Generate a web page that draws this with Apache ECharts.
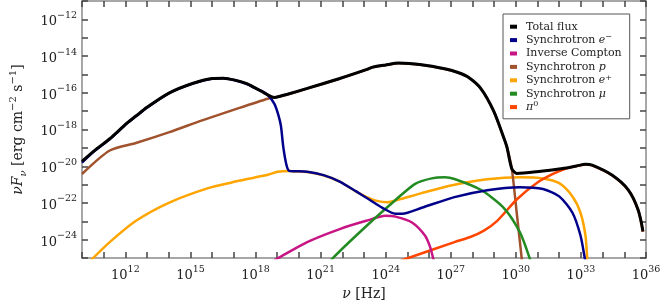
<!DOCTYPE html>
<html><head><meta charset="utf-8">
<script src="https://cdn.jsdelivr.net/npm/echarts@6/dist/echarts.min.js"></script>
<style>html,body{margin:0;padding:0;background:#fff}#c{width:664px;height:306px}</style>
</head><body><div id="c"></div>
<script>
// All values are log10 exponents (axes are decades)
const seriesNames = ['Total flux', 'Synchrotron e−', 'Inverse Compton', 'Synchrotron p', 'Synchrotron e+', 'Synchrotron μ', 'π0'];
const seriesColors = ['#000000', '#00008B', '#C71585', '#A0522D', '#FFA500', '#228B22', '#FF4500'];

const xLabelExponents = [12, 15, 18, 21, 24, 27, 30, 33, 36];
const yLabelExponents = [-24, -22, -20, -18, -16, -14, -12];

const totalLogNu = [10.0, 10.6, 11.28, 12.07, 12.5, 12.98, 14.03, 15.09, 15.99, 16.52, 17.05, 17.6, 17.96, 18.56, 18.87, 19.1, 19.47, 20.38, 21.88, 23.1, 23.4, 24.0, 24.6, 25.66, 26.72, 27.3, 27.78, 28.38, 28.98, 29.44, 29.59, 29.81, 30.04, 30.95, 32.16, 32.8, 33.21, 33.52, 34.43, 35.18, 35.63, 35.86];
const totalLogF  = [-19.73, -19.12, -18.5, -17.65, -17.25, -16.8, -16.0, -15.49, -15.22, -15.2, -15.31, -15.5, -15.72, -16.11, -16.25, -16.2, -16.08, -15.76, -15.22, -14.74, -14.6, -14.48, -14.38, -14.47, -14.69, -14.88, -15.13, -15.76, -17.0, -18.43, -18.96, -20.12, -20.39, -20.3, -20.12, -19.98, -19.89, -19.94, -20.48, -21.28, -22.35, -23.55];

const synElLogNu = [10.0, 10.6, 11.28, 12.07, 12.5, 12.98, 14.03, 15.09, 15.99, 16.52, 17.05, 17.6, 17.96, 18.3, 18.56, 18.87, 19.05, 19.17, 19.28, 19.42, 19.55, 19.8, 20.38, 21.13, 21.88, 22.64, 23.24, 23.85, 24.45, 24.76, 25.66, 27.17, 28.68, 30.19, 31.25, 32.0, 32.61, 32.98, 33.18, 33.22];
const synElLogF  = [-19.8, -19.15, -18.52, -17.67, -17.27, -16.82, -16.01, -15.5, -15.23, -15.21, -15.32, -15.52, -15.73, -15.9, -16.11, -16.6, -17.2, -17.8, -18.96, -19.9, -20.25, -20.27, -20.3, -20.48, -20.83, -21.37, -21.81, -22.26, -22.58, -22.58, -22.26, -21.68, -21.3, -21.14, -21.24, -21.64, -22.53, -23.77, -25.02, -25.3];

const icLogNu = [18.85, 19.02, 20.38, 21.88, 23.1, 24.0, 24.45, 25.21, 25.81, 26.05, 26.19, 26.23];
const icLogF  = [-25.13, -25.02, -24.13, -23.42, -22.97, -22.7, -22.74, -23.06, -23.77, -24.4, -25.02, -25.3];

const synPLogNu = [10.0, 11.28, 12.52, 14.03, 15.54, 17.05, 18.56, 18.87, 19.47, 20.38, 21.88, 23.1, 23.4, 24.0, 24.6, 25.66, 26.72, 27.3, 27.78, 28.38, 28.98, 29.44, 29.59, 29.81, 30.04, 30.27, 30.3];
const synPLogF  = [-20.42, -19.14, -18.72, -18.14, -17.5, -16.9, -16.32, -16.25, -16.09, -15.77, -15.23, -14.75, -14.61, -14.49, -14.39, -14.48, -14.7, -14.89, -15.14, -15.77, -17.01, -18.44, -18.97, -20.1, -22.53, -25.02, -25.35];

const synPosLogNu = [10.3, 10.5, 11.28, 12.49, 14.0, 15.81, 16.9, 17.93, 18.6, 19.02, 19.55, 19.8, 20.38, 21.13, 21.88, 22.64, 23.1, 23.55, 24.08, 24.61, 25.66, 27.17, 28.68, 30.19, 31.25, 32.0, 32.61, 32.98, 33.21, 33.29, 33.31];
const synPosLogF  = [-25.3, -25.02, -24.13, -22.97, -21.99, -21.19, -20.88, -20.62, -20.45, -20.3, -20.26, -20.28, -20.31, -20.49, -20.84, -21.38, -21.66, -21.87, -21.96, -21.81, -21.46, -21.01, -20.71, -20.6, -20.66, -20.92, -21.64, -22.53, -23.77, -25.02, -25.3];

const synMuLogNu = [21.4, 21.55, 22.64, 24.15, 25.36, 26.12, 26.72, 27.17, 28.38, 29.44, 30.19, 30.64, 30.68];
const synMuLogF  = [-25.3, -25.02, -23.77, -22.15, -20.96, -20.66, -20.6, -20.69, -21.28, -22.26, -23.6, -25.02, -25.3];

const pi0LogNu = [24.4, 24.98, 27.17, 27.9, 28.53, 29.14, 30.04, 30.95, 31.71, 32.31, 32.8, 33.21, 33.52, 34.43, 35.18, 35.63, 35.86];
const pi0LogF  = [-25.26, -25.02, -24.13, -23.85, -23.5, -22.97, -21.81, -20.92, -20.42, -20.12, -19.99, -19.9, -19.95, -20.49, -21.29, -22.36, -23.56];

const seriesLogNu = [totalLogNu, synElLogNu, icLogNu, synPLogNu, synPosLogNu, synMuLogNu, pi0LogNu];
const seriesLogF  = [totalLogF, synElLogF, icLogF, synPLogF, synPosLogF, synMuLogF, pi0LogF];
const seriesZ = [10, 8, 6, 5, 4, 6, 5];
const seriesWidth = [3, 2.5, 2.5, 2.5, 2.5, 2.5, 2.5];

const legendRich = {
  'Total flux': 'Total flux',
  'Synchrotron e−': 'Synchrotron {it|e}{sup|−}',
  'Inverse Compton': 'Inverse Compton',
  'Synchrotron p': 'Synchrotron {it|p}',
  'Synchrotron e+': 'Synchrotron {it|e}{sup|+}',
  'Synchrotron μ': 'Synchrotron {it|μ}',
  'π0': '{it|π}{sup|0}'
};

const FONT = 'DejaVu Serif';
const AX = '#8a8a8a';

function toPairs(lx, ly) { return lx.map((e, i) => [e, ly[i]]); }

const labelRich = {
  b: { fontFamily: FONT, fontSize: 13, color: '#222', lineHeight: 18, verticalAlign: 'bottom' },
  s: { fontFamily: FONT, fontSize: 9.5, color: '#222', lineHeight: 11, verticalAlign: 'top' }
};

function baseAxis(pos, isX) {
  return {
    type: 'value',
    min: isX ? 10 : -25, max: isX ? 36 : -11,
    interval: 1,
    position: pos,
    axisLine: { show: true, lineStyle: { color: AX, width: 1.5 } },
    axisTick: { show: true, inside: true, length: 6, lineStyle: { color: '#444', width: 1.5 } },
    splitLine: { show: false }
  };
}

const xMain = Object.assign(baseAxis('bottom', true), {
  axisLabel: {
    margin: 6, showMinLabel: true, showMaxLabel: true,
    formatter: v => { const e = Math.round(v); return xLabelExponents.includes(e) ? '{b|10}{s|' + e + '}' : ''; },
    rich: labelRich
  },
  name: '{it|ν} [Hz]', nameLocation: 'middle', nameGap: 28,
  nameTextStyle: { fontFamily: FONT, fontSize: 14, color: '#222', rich: { it: { fontFamily: FONT, fontStyle: 'italic', fontSize: 14, color: '#222' } } }
});
const xTop = Object.assign(baseAxis('top', true), { axisLabel: { show: false } });
const yMain = Object.assign(baseAxis('left', false), {
  axisLabel: {
    margin: 5,
    formatter: v => { const e = Math.round(v); return yLabelExponents.includes(e) ? '{b|10}{s|−' + (-e) + '}' : ''; },
    rich: labelRich
  },
  name: '{it|νF}{sub|ν} [erg cm{sup|−2} s{sup|−1}]', nameLocation: 'middle', nameGap: 54,
  nameTextStyle: { fontFamily: FONT, fontSize: 14, color: '#222', lineHeight: 20,
    rich: {
      it: { fontFamily: FONT, fontStyle: 'italic', fontSize: 14, color: '#222', lineHeight: 20 },
      sub: { fontFamily: FONT, fontStyle: 'italic', fontSize: 10, color: '#222', lineHeight: 12, verticalAlign: 'bottom' },
      sup: { fontFamily: FONT, fontSize: 10, color: '#222', lineHeight: 12, verticalAlign: 'top' }
    } }
});
const yRight = Object.assign(baseAxis('right', false), { axisLabel: { show: false } });

const chart = echarts.init(document.getElementById('c'), null, { renderer: 'canvas' });
chart.setOption({
  animation: false,
  backgroundColor: '#fff',
  grid: { left: 71, right: 18, top: 1, bottom: 43 },
  xAxis: [xMain, xTop],
  yAxis: [yMain, yRight],
  legend: {
    data: seriesNames,
    orient: 'vertical', left: 503, top: 14,
    icon: 'rect', itemWidth: 7, itemHeight: 4, itemGap: 0,
    backgroundColor: '#fff', borderColor: '#555', borderWidth: 1, borderRadius: 0,
    padding: [6, 8, 5, 7],
    selectedMode: false,
    formatter: n => legendRich[n],
    textStyle: {
      fontFamily: FONT, fontSize: 11, color: '#222', lineHeight: 13.4, padding: [0, 0, 0, 4],
      rich: {
        it: { fontFamily: FONT, fontStyle: 'italic', fontSize: 11, color: '#222', lineHeight: 13.4 },
        sup: { fontFamily: FONT, fontSize: 8, color: '#222', lineHeight: 9, verticalAlign: 'top' }
      }
    }
  },
  series: seriesNames.map((n, i) => ({
    name: n, type: 'line', xAxisIndex: 0, yAxisIndex: 0,
    data: toPairs(seriesLogNu[i], seriesLogF[i]),
    showSymbol: false, symbol: 'none',
    smooth: 0.25,
    clip: true, z: seriesZ[i],
    lineStyle: { color: seriesColors[i], width: seriesWidth[i] },
    itemStyle: { color: seriesColors[i] }
  }))
});
</script></body></html>
